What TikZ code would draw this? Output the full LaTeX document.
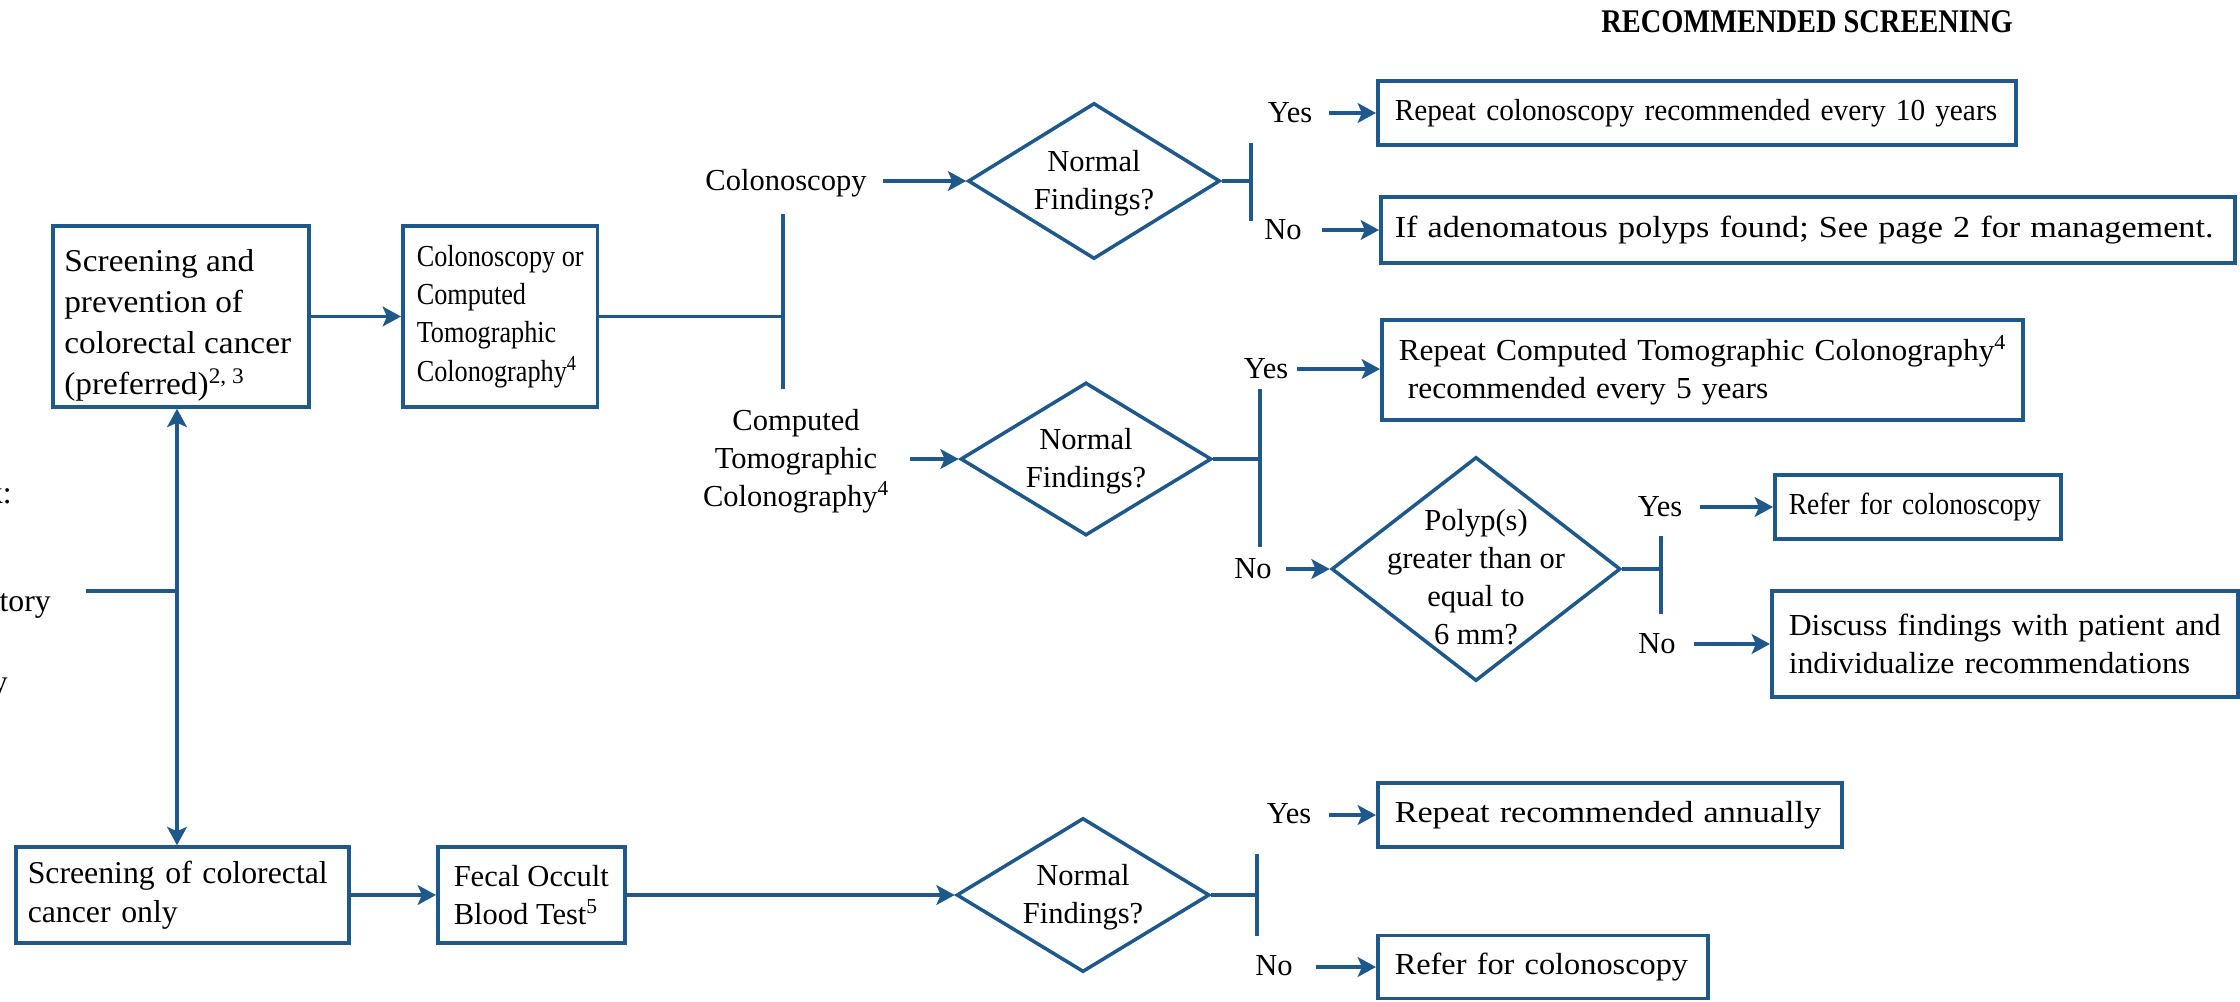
\documentclass[tikz,border=0pt]{standalone}
\usepackage{fontspec}
\setmainfont{Liberation Serif}
\newfontfamily\condfont[FakeStretch=0.86]{Liberation Serif}
\usetikzlibrary{shapes.geometric,arrows.meta}
\definecolor{cblue}{RGB}{31,89,139}
\newlength{\px}
\setlength{\px}{0.025cm}
\newcommand{\fsN}{\fontsize{21.7pt}{27pt}\selectfont}
\newcommand{\fsS}[1]{\addfontfeatures{FakeStretch=#1}\fontsize{21.7pt}{27pt}\selectfont}
\newcommand{\fsL}{\fontsize{22.6pt}{27.5pt}\selectfont}
\newcommand{\fsA}{\addfontfeatures{FakeStretch=1.05}\fontsize{22.6pt}{29.2pt}\selectfont}
\newcommand{\fsB}{\condfont\fontsize{21.7pt}{27.2pt}\selectfont}
\newcommand{\fsT}{\bfseries\addfontfeatures{FakeStretch=0.86}\fontsize{23.5pt}{28pt}\selectfont}
\hfuzz=200pt
\tikzset{
  ln/.style={draw=cblue, line width=2.7pt},
  arr/.style={ln, -{Stealth[length=13pt,width=14pt,inset=3pt]}},
  dblarr/.style={ln, {Stealth[length=13pt,width=14pt,inset=3pt]}-{Stealth[length=13pt,width=14pt,inset=3pt]}},
  box/.style={draw=cblue, line width=2.5pt, rectangle, align=left, anchor=west, inner xsep=16\px, inner ysep=0pt, font=\fsN},
  dia/.style={draw=cblue, line width=2.5pt, diamond, inner sep=0pt},
  txt/.style={inner sep=0pt, align=center, font=\fsN},
}
\begin{document}
\begin{tikzpicture}[x=0.025cm, y=-0.025cm]
\useasboundingbox (0,0) rectangle (2240,1001);

% title
\node[txt, font=\fsT] (title) at (1807,22) {RECOMMENDED SCREENING};

% left fragments (cut by the picture's edge)
\node[txt, font=\fsL, anchor=east] (f1) at (12,493) {k:};
\node[txt, font=\fsL, anchor=east] (f2) at (51,606) {tory};
\node[txt, font=\fsL, anchor=east] (f3) at (8,689) {y};

% main boxes
\node[box, minimum width=256\px, minimum height=181\px] (A) at (51,316.5) {};
\node[txt, font=\fsA, align=left, anchor=west] (At) at (64,325)
  {Screening and\\prevention of\\colorectal cancer\\(preferred)\textsuperscript{2, 3}};
\node[box, font=\fsB, minimum height=181\px, inner xsep=14\px] (B) at (401,316.5)
  {Colonoscopy or\\Computed\\Tomographic\\Colonography\textsuperscript{4}};
\draw[arr] (A.east) -- (B.west);

% left connectors
\coordinate (v1) at (177,0);
\coordinate (h1) at (86,591);
\node[box, font=\fsL, minimum height=96\px, inner xsep=12\px, text width=309\px] (C) at (14,895)
  {\mbox{Screening of colorectal}\\\mbox{cancer only}};
\draw[dblarr] (v1 |- A.south) -- (v1 |- C.north);
\draw[ln] (h1) -- (v1 |- h1);

% split after B
\coordinate (j1t) at (783,214);
\coordinate (j1b) at (783,389);
\draw[ln] (B.east) -- (B.east -| j1t);
\draw[ln] (j1t) -- (j1b);

% colonoscopy branch
\node[txt] (colL) at (786,183) {Colonoscopy};
\coordinate (c1s) at (883,181);
\node[dia, minimum width=252\px, minimum height=156\px] (d1) at (1094,181) {};
\node[txt] (d1t) at ([yshift=-2\px]d1.center) {Normal\\Findings?};
\draw[arr] (c1s) -- (d1.west);
\coordinate (s1) at (1251,181);
\coordinate (s1t) at (1251,143);
\coordinate (s1b) at (1251,221);
\draw[ln] (d1.east) -- (s1);
\draw[ln] (s1t) -- (s1b);
\node[txt] (y1) at (1290,113) {Yes};
\coordinate (y1a) at (1329,113);
\node[box, font={\fsS{0.96}}, minimum height=64\px, inner xsep=17\px, text width=604\px] (R1) at (1376,113)
  {\mbox{Repeat colonoscopy recommended every 10 years}};
\draw[arr] (y1a) -- (R1.west);
\node[txt] (n1) at (1283,230) {No};
\coordinate (n1a) at (1322,230);
\node[box, font={\fsS{1.12}}, minimum height=66\px, inner xsep=14\px, text width=826\px] (R2) at (1379,230)
  {\mbox{If adenomatous polyps found; See page 2 for management.}};
\draw[arr] (n1a) -- (R2.west);

% CTC branch
\node[txt] (ctL) at (796,461) {Computed\\Tomographic\\Colonography\textsuperscript{4}};
\coordinate (c2s) at (910,459);
\node[dia, minimum width=251\px, minimum height=153\px] (d2) at (1086,459) {};
\node[txt] (d2t) at ([yshift=-2\px]d2.center) {Normal\\Findings?};
\draw[arr] (c2s) -- (d2.west);
\coordinate (s2) at (1260,459);
\coordinate (s2t) at (1260,389);
\coordinate (s2b) at (1260,547);
\draw[ln] (d2.east) -- (s2);
\draw[ln] (s2t) -- (s2b);
\node[txt] (y2) at (1266,369) {Yes};
\coordinate (y2a) at (1297,369);
\node[box, font={\fsS{1.03}}, minimum height=100\px, inner xsep=17\px, text width=607\px] (R3) at (1380,370)
  {\mbox{Repeat Computed Tomographic Colonography\textsuperscript{4}}\\\mbox{\hspace*{0.3em}recommended every 5 years}};
\draw[arr] (y2a) -- (R3.west |- y2a);
\node[txt] (n2) at (1253,569) {No};
\coordinate (n2a) at (1286,569);
\node[dia, minimum width=289\px, minimum height=224\px] (d3) at (1476,569) {};
\node[txt] (d3t) at ([yshift=-8\px]d3.center) {Polyp(s)\\greater than or\\equal to\\6 mm?};
\draw[arr] (n2a) -- (d3.west);
\coordinate (s3) at (1661,569);
\coordinate (s3t) at (1661,536);
\coordinate (s3b) at (1661,614);
\draw[ln] (d3.east) -- (s3);
\draw[ln] (s3t) -- (s3b);
\node[txt] (y3) at (1660,507) {Yes};
\coordinate (y3a) at (1700,507);
\node[box, font={\fsS{0.9}}, minimum height=64\px, inner xsep=14\px, text width=258\px] (R4) at (1773,507)
  {\mbox{Refer for colonoscopy}};
\draw[arr] (y3a) -- (R4.west);
\node[txt] (n3) at (1657,644) {No};
\coordinate (n3a) at (1694,644);
\node[box, font={\fsS{1.04}}, minimum height=106\px, inner xsep=17\px, text width=432\px] (R5) at (1770,644)
  {\mbox{Discuss findings with patient and}\\\mbox{individualize recommendations}};
\draw[arr] (n3a) -- (R5.west);

% FOBT branch
\node[box, minimum height=96\px] (D) at (436,895) {Fecal Occult\\Blood Test\textsuperscript{5}};
\draw[arr] (C.east) -- (D.west);
\node[dia, minimum width=253\px, minimum height=154\px] (d4) at (1083,895) {};
\node[txt] (d4t) at ([yshift=-2\px]d4.center) {Normal\\Findings?};
\draw[arr] (D.east) -- (d4.west);
\coordinate (s4) at (1257,895);
\coordinate (s4t) at (1257,854);
\coordinate (s4b) at (1257,936);
\draw[ln] (d4.east) -- (s4);
\draw[ln] (s4t) -- (s4b);
\node[txt] (y4) at (1289,814) {Yes};
\coordinate (y4a) at (1329,815);
\node[box, font={\fsS{1.12}}, minimum height=64\px, inner xsep=17\px, text width=430\px] (R6) at (1376,815)
  {\mbox{Repeat recommended annually}};
\draw[arr] (y4a) -- (R6.west);
\node[txt] (n4) at (1274,966) {No};
\coordinate (n4a) at (1316,967);
\node[box, font={\fsS{1.06}}, minimum height=63\px, inner xsep=17\px, text width=296\px] (R7) at (1376,967)
  {\mbox{Refer for colonoscopy}};
\draw[arr] (n4a) -- (R7.west);
\end{tikzpicture}
\end{document}
